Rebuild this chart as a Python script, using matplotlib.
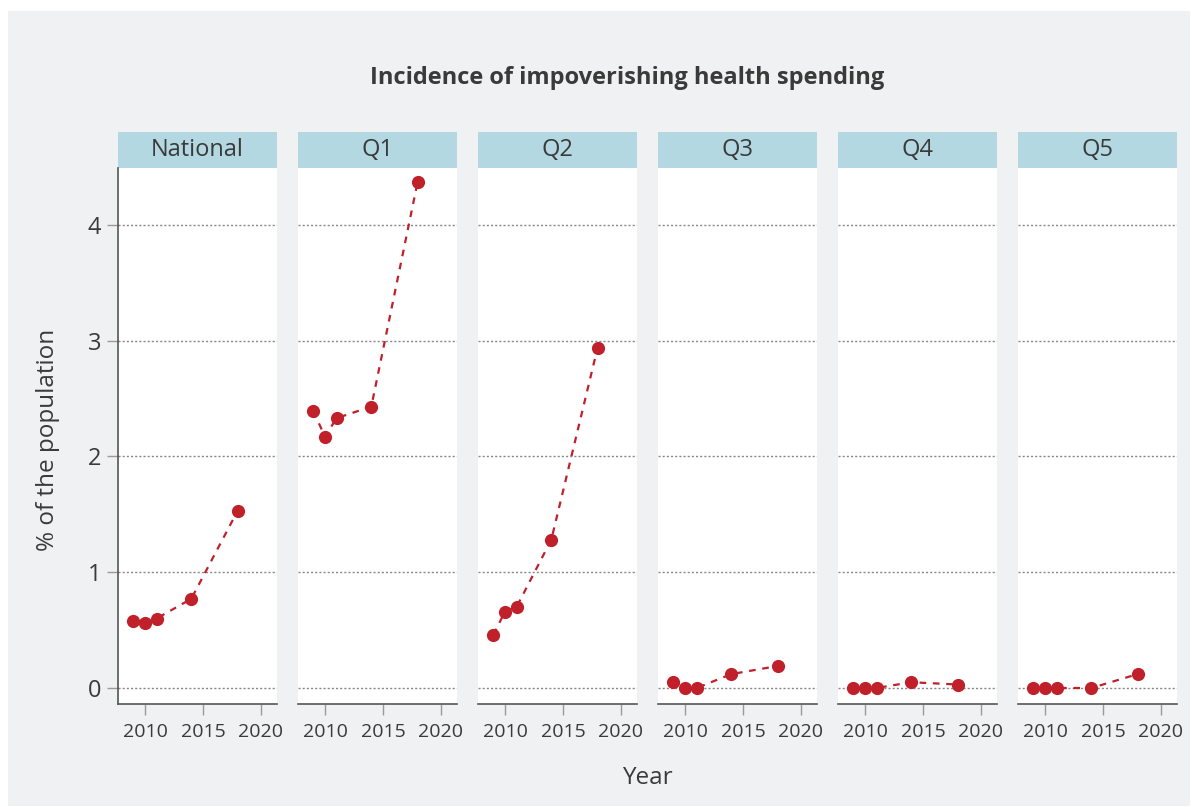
import matplotlib.pyplot as plt
from matplotlib.patches import Rectangle

# incidence of impoverishing health spending, % of population
years = [2009, 2010, 2011, 2014, 2018]
groups = ['National', 'Q1', 'Q2', 'Q3', 'Q4', 'Q5']
national = [0.58, 0.56, 0.60, 0.77, 1.53]
q1 = [2.39, 2.17, 2.33, 2.43, 4.37]
q2 = [0.46, 0.66, 0.70, 1.28, 2.94]
q3 = [0.05, 0.0, 0.0, 0.12, 0.19]
q4 = [0.0, 0.0, 0.0, 0.05, 0.03]
q5 = [0.0, 0.0, 0.0, 0.0, 0.12]
series = [national, q1, q2, q3, q4, q5]
yticks = [0, 1, 2, 3, 4]
xticks = [2010, 2015, 2020]

W, H = 1198, 807
bg = '#f0f1f3'
strip_col = '#b3d8e2'
red = '#c0202a'
txt = '#3a3a3a'
grey = '#9a9a9a'

fig = plt.figure(figsize=(W / 100, H / 100), dpi=100)
fig.patch.set_facecolor('white')
fig.patches.append(Rectangle((8 / W, 1 - 806 / H), 1182 / W, 795 / H,
                             transform=fig.transFigure, facecolor=bg,
                             edgecolor='none', zorder=-10))

fig.text(627 / W, 1 - 78 / H, 'Incidence of impoverishing health spending',
         ha='center', va='center', fontsize=17, fontweight='bold',
         color=txt, family='Open Sans')

lefts = [118, 298, 478, 658, 838, 1018]
pw = 159
top, bot = 168, 704
for i, (name, vals) in enumerate(zip(groups, series)):
    ax = fig.add_axes([lefts[i] / W, 1 - bot / H, pw / W, (bot - top) / H])
    ax.set_facecolor('white')
    ax.set_xlim(2007.67, 2021.4)
    ax.set_ylim(-0.138, 4.49)
    for y in yticks:
        ax.axhline(y, color='#888888', lw=1, ls=(0, (1.5, 1.5)), zorder=1)
    ax.plot(years, vals, color=red, lw=1.6, ls=(0, (3, 3)), zorder=2)
    ax.plot(years, vals, 'o', color=red, ms=9.5, mec='none', zorder=3)

    for s in ['top', 'right']:
        ax.spines[s].set_visible(False)
    ax.spines['bottom'].set_color('#555555')
    ax.spines['bottom'].set_linewidth(1.2)
    ax.set_xticks(xticks)
    ax.tick_params(axis='x', length=8, width=1, color=grey, pad=6,
                   labelsize=14, labelcolor=txt)
    for lab in ax.get_xticklabels():
        lab.set_family(['Liberation Sans Narrow', 'Open Sans'])
    if i == 0:
        ax.spines['left'].set_color('#555555')
        ax.spines['left'].set_linewidth(1.2)
        ax.set_yticks(yticks)
        ax.tick_params(axis='y', length=8, width=1, color=grey, pad=4,
                       labelsize=17, labelcolor=txt)
        for lab in ax.get_yticklabels():
            lab.set_family('Open Sans')
    else:
        ax.spines['left'].set_visible(False)
        ax.set_yticks([])

    # facet header
    ax.add_patch(Rectangle((0, 1), 1, 36 / (bot - top), transform=ax.transAxes,
                           facecolor=strip_col, edgecolor='none', clip_on=False))
    ax.text(0.5, 1 + 18 / (bot - top), name, transform=ax.transAxes,
            ha='center', va='center', fontsize=17, color=txt, family='Open Sans')

fig.text(48 / W, 1 - 440 / H, '% of the population', rotation=90,
         ha='center', va='center', fontsize=17.5, color=txt, family='Open Sans')
fig.text(647 / W, 1 - 778 / H, 'Year', ha='center', va='center',
         fontsize=17.5, color=txt, family='Open Sans')

fig.savefig('out.png', dpi=100, facecolor=fig.get_facecolor())
